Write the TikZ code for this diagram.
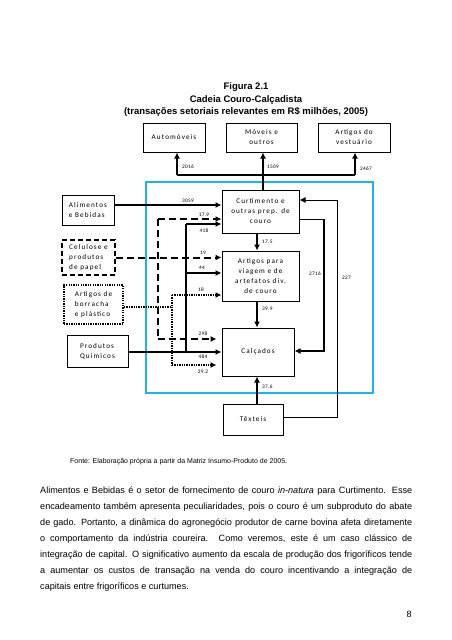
\documentclass[tikz,border=0pt]{standalone}
\usepackage{fontspec}
\setmainfont{Liberation Sans}
\newfontfamily\boxfont[LetterSpace=15]{Carlito}
\newfontfamily\numfont[LetterSpace=6]{Carlito}
\usetikzlibrary{arrows.meta}
\definecolor{frameblue}{RGB}{30,180,230}
\begin{document}
\begin{tikzpicture}[x=1pt,y=-1pt,
  sbox/.style={draw, line width=1pt, inner sep=1pt, align=center, font=\boxfont\fontsize{7.2}{10}\selectfont},
  dbox/.style={sbox, line width=1.8pt, dash pattern=on 5pt off 3pt},
  obox/.style={sbox, line width=2pt, dash pattern=on 1.3pt off 1.1pt},
  num/.style={font=\numfont\fontsize{5.3}{6}\selectfont, inner sep=0pt},
  tip/.style={-{Latex[length=6pt,width=6pt]}},
  thickline/.style={line width=2pt},
  thinline/.style={line width=1pt},
  dashline/.style={line width=2pt, dash pattern=on 7pt off 4pt},
  dotline/.style={line width=2pt, dash pattern=on 1.3pt off 1.1pt},
  titletext/.style={font=\bfseries\fontsize{9.5}{12.5}\selectfont, align=center, inner sep=0pt},
]
\useasboundingbox (0,0) rectangle (452,640);
\fill[white] (0,0) rectangle (452,640);

% title
\node[titletext] (title) at (246,100) {Figura 2.1\\Cadeia Couro-Calçadista\\(transações setoriais relevantes em R\$ milhões, 2005)};

% blue frame
\draw[frameblue, line width=2.2pt] (146,182) rectangle (373,393);

% boxes
\node[sbox, minimum width=62pt, minimum height=29pt] (auto) at (174,137.5) {Automóveis};
\node[sbox, minimum width=71pt, minimum height=29pt] (move) at (261.5,137.5) {Móveis e\\outros};
\node[sbox, minimum width=72pt, minimum height=29pt] (vest) at (354,137.5) {Artigos do\\vestuário};
\node[sbox, minimum width=77pt, minimum height=43pt] (curt) at (260.5,211.5) {Curtimento e\\outras prep. de\\couro};
\node[sbox, minimum width=77pt, minimum height=50pt] (viag) at (260.5,276) {Artigos para\\viagem e de\\artefatos div.\\de couro};
\node[sbox, minimum width=72pt, minimum height=48pt] (calc) at (258,352) {Calçados};
\node[sbox, minimum width=60pt, minimum height=31pt] (text) at (253,419.5) {Têxteis};
\node[sbox, minimum width=52pt, minimum height=30pt, align=left] (alim) at (88,210) {Alimentos\\e Bebidas};
\node[dbox, minimum width=53pt, minimum height=35pt, align=left] (celu) at (88.5,257.5) {Celulose e\\produtos\\de papel};
\node[obox, minimum width=59pt, minimum height=39pt, align=left] (borr) at (93.5,304.5) {Artigos de\\borracha\\e plástico};
\node[sbox, minimum width=61pt, minimum height=32pt, align=left] (quim) at (97.5,351) {Produtos\\Quimicos};

% helper coordinates
\coordinate (hub) at (263,175);
\coordinate (a1) at (177,175);
\coordinate (a3) at (355,175);
\coordinate (col) at (257,0);
\coordinate (y205) at (0,205);
\coordinate (y200) at (0,200);
\coordinate (y219) at (0,219);
\coordinate (y351) at (0,351);
\coordinate (y417) at (0,417);
\coordinate (d1) at (158,219);
\coordinate (d2) at (158,339);
\coordinate (s1) at (186,224);
\coordinate (s2) at (186,273);
\coordinate (s3) at (186,352);
\coordinate (p0) at (172,307);
\coordinate (p1) at (172,295);
\coordinate (p2) at (172,365);
\coordinate (r1) at (324,219);
\coordinate (r2) at (324,351);
\coordinate (q1) at (337,417);
\coordinate (q2) at (337,200);

% top distribution
\draw[line width=1.5pt] (hub |- curt.north) -- (hub);
\draw[line width=1.5pt] (a1) -- (a3);
\draw[thickline, tip] (a1) -- (a1 |- auto.south);
\draw[thickline, tip] (hub) -- (hub |- move.south);
\draw[thickline, tip] (a3) -- (a3 |- vest.south);
\node[num, anchor=west] (l2016) at (182,167) {2016};
\node[num, anchor=west] (l1509) at (267,167) {1509};
\node[num, anchor=west] (l2467) at (360,169) {2467};

% alimentos
\draw[line width=1.5pt, tip] (alim.east |- y205) -- (curt.west |- y205);
\node[num] (l3059) at (188,201) {3059};

% dashed (celulose)
\draw[dashline, tip] (celu.east) -- (viag.west |- celu.east);
\draw[dashline] (d1) -- (d2);
\draw[dashline, tip] (d1) -- (curt.west |- d1);
\draw[dashline, tip, shorten >=5pt] (d2) -- (calc.west |- d2);
\node[num] (l179) at (204,215) {17.9};
\node[num] (l19) at (203,253) {19};
\node[num] (l298) at (203,334) {298};

% solid (quimicos)
\draw[thickline, tip] (quim.east |- s3) -- (calc.west |- s3);
\draw[thickline] (s3) -- (s1);
\draw[thickline, tip] (s1) -- (curt.west |- s1);
\draw[thickline, tip] (s2) -- (viag.west |- s2);
\node[num] (l418) at (204,231) {418};
\node[num] (l44) at (202,268) {44};
\node[num] (l484) at (203,357) {484};

% dotted (borracha)
\draw[dotline] (borr.east |- p0) -- (p0);
\draw[dotline] (p1) -- (p2);
\draw[dotline, tip] (p1) -- (viag.west |- p1);
\draw[dotline, tip, shorten >=5pt] (p2) -- (calc.west |- p2);
\node[num] (l18) at (201,290) {18};
\node[num] (l292) at (203,372) {29.2};

% chain
\draw[thickline, tip] (col |- curt.south) -- (col |- viag.north);
\node[num, anchor=west] (l175) at (262,242) {17.5};
\draw[thickline, tip] (col |- viag.south) -- (col |- calc.north);
\node[num, anchor=west] (l399) at (262,309) {39.9};
\draw[thickline, tip] (col |- text.north) -- (col |- calc.south);
\node[num, anchor=west] (l376) at (262,387) {37.6};

% 2716 loop
\draw[thinline] (curt.east |- y219) -- (r1);
\draw[thickline, tip] (r1) -- (r2) -- (calc.east |- r2);
\node[num, anchor=east] (l2716) at (321,274) {2716};

% 227 loop
\draw[thinline, tip] (text.east |- y417) -- (q1) -- (q2) -- (curt.east |- q2);
\node[num, anchor=west] (l227) at (342,278) {227};

% source
\node[anchor=west, inner sep=0pt, font=\fontsize{7}{8}\selectfont] (src) at (70,462) {Fonte: Elaboração própria a partir da Matriz Insumo-Produto de 2005.};

% paragraph
\node[anchor=north west, inner sep=0pt, text width=372pt, align=justify,
      font=\fontsize{9.1}{16}\selectfont] (para) at (40,487)
{\hyphenpenalty=10000 Alimentos e Bebidas é o setor de fornecimento de couro \textit{in-natura} para Curtimento. Esse\linebreak
encadeamento também apresenta peculiaridades, pois o couro é um subproduto do abate\linebreak
de gado. Portanto, a dinâmica do agronegócio produtor de carne bovina afeta diretamente\linebreak
o comportamento da indústria coureira. Como veremos, este é um caso clássico de\linebreak
integração de capital. O significativo aumento da escala de produção dos frigoríficos tende\linebreak
a aumentar os custos de transação na venda do couro incentivando a integração de\linebreak
capitais entre frigoríficos e curtumes.};

\node[anchor=east, inner sep=0pt, font=\fontsize{9.1}{11}\selectfont] (page) at (412,614) {8};
\end{tikzpicture}
\end{document}
